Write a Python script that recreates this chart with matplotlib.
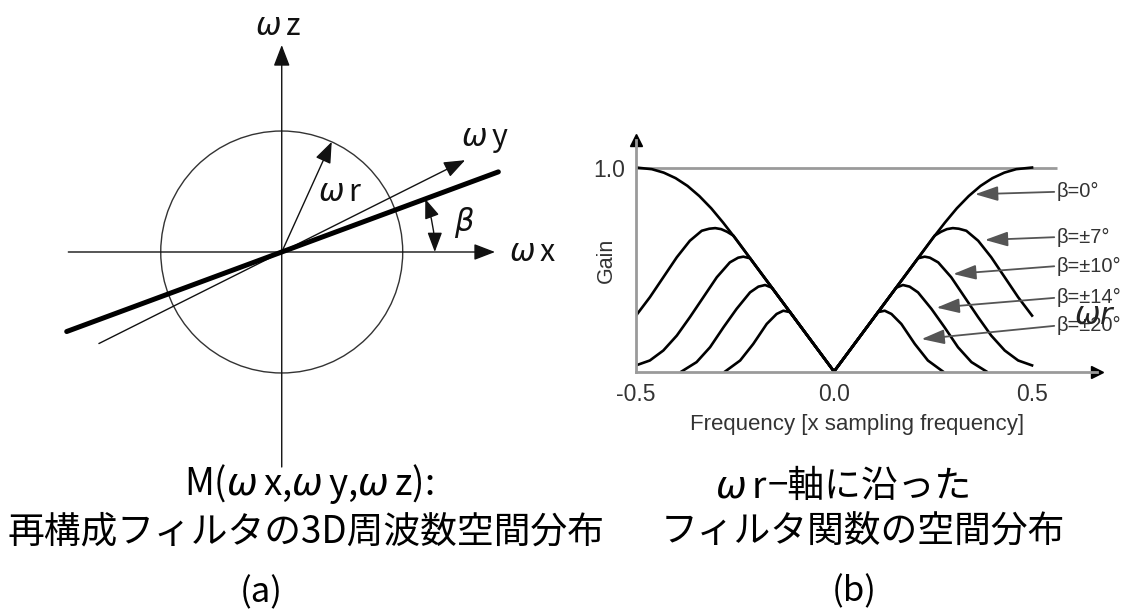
import numpy as np
import matplotlib.pyplot as plt
from matplotlib.patches import Circle, FancyArrowPatch

plt.rcParams['font.family'] = ['Noto Sans CJK JP', 'DejaVu Sans']
plt.rcParams['mathtext.fontset'] = 'dejavusans'

W, H = 1128, 613

# --- (b) gain along the wr axis, left half (f <= 0); the right half is its mirror image
freq_b0 = [-0.5, -0.46, -0.43, -0.40, -0.37, -0.34, -0.31, -0.28, -0.25, -0.2, -0.15, -0.1, -0.05, 0.0]
gain_b0 = [1.0, 0.992, 0.975, 0.948, 0.91, 0.86, 0.80, 0.73, 0.655, 0.524, 0.393, 0.262, 0.131, 0.0]

freq_b7 = [-0.5, -0.465, -0.431, -0.397, -0.364, -0.334, -0.315, -0.30, -0.285, -0.27, -0.254,
           -0.2, -0.15, -0.1, -0.05, 0.0]
gain_b7 = [0.274, 0.364, 0.462, 0.56, 0.641, 0.69, 0.70, 0.703, 0.698, 0.685, 0.666,
           0.524, 0.393, 0.262, 0.131, 0.0]

freq_b10 = [-0.5, -0.465, -0.431, -0.397, -0.364, -0.33, -0.296, -0.263, -0.242, -0.229, -0.212,
            -0.15, -0.1, -0.05, 0.0]
gain_b10 = [0.03, 0.054, 0.103, 0.176, 0.266, 0.364, 0.462, 0.535, 0.558, 0.563, 0.555,
            0.393, 0.262, 0.131, 0.0]

freq_b14 = [-0.385, -0.347, -0.313, -0.279, -0.246, -0.212, -0.191, -0.174, -0.157, -0.1, -0.05, 0.0]
gain_b14 = [0.0, 0.046, 0.119, 0.217, 0.307, 0.388, 0.416, 0.424, 0.411, 0.262, 0.131, 0.0]

freq_b20 = [-0.275, -0.237, -0.204, -0.17, -0.145, -0.128, -0.111, -0.05, 0.0]
gain_b20 = [0.0, 0.054, 0.135, 0.233, 0.282, 0.298, 0.291, 0.131, 0.0]

curves = [(freq_b0, gain_b0), (freq_b7, gain_b7), (freq_b10, gain_b10),
          (freq_b14, gain_b14), (freq_b20, gain_b20)]

beta_labels = ["β=0°", "β=±7°", "β=±10°", "β=±14°", "β=±20°"]
label_gain = [0.881, 0.659, 0.517, 0.362, 0.225]
tip_freq = [0.356, 0.381, 0.301, 0.259, 0.221]
tip_gain = [0.869, 0.645, 0.478, 0.313, 0.159]
label_freq = 0.563

xtick_vals = [-0.5, 0.0, 0.5]
xtick_text = ["-0.5", "0.0", "0.5"]

# --- (a) geometry, in units of the circle radius
beta_deg = 20.3
wy_deg = 26.6
wr_deg = 65.6
arc_r = 1.265


def px(x, y):
    return x / W, 1 - y / H


fig = plt.figure(figsize=(W / 100, H / 100), dpi=100)

# ---------------- panel (a)
ax = fig.add_axes([40 / W, 1 - 470 / H, 520 / W, 470 / H])
ax.set_xlim(-1.998, 2.300)
ax.set_ylim(-1.802, 2.083)
ax.axis('off')

head = dict(arrowstyle="-|>,head_length=1.3,head_width=0.5", mutation_scale=10,
            color="#111", lw=1.0, shrinkA=0, shrinkB=0)

ax.add_patch(Circle((0, 0), 1.0, fill=False, ec="#333", lw=1.0))
ax.add_patch(FancyArrowPatch((-1.764, 0), (1.763, 0), **head))
ax.add_patch(FancyArrowPatch((0, -1.777), (0, 1.711), **head))

t = np.radians(wy_deg)
ax.add_patch(FancyArrowPatch((-1.69 * np.cos(t), -1.69 * np.sin(t)),
                             (1.695 * np.cos(t), 1.695 * np.sin(t)), **head))
t = np.radians(wr_deg)
ax.add_patch(FancyArrowPatch((0, 0), (np.cos(t), np.sin(t)), **head))

t = np.radians(beta_deg)
ax.plot([-1.895 * np.cos(t), 1.909 * np.cos(t)], [-1.895 * np.sin(t), 1.909 * np.sin(t)],
        color="black", lw=3.6, solid_capstyle="round")

arc_style = dict(head)
arc_style["arrowstyle"] = "<|-|>,head_length=1.2,head_width=0.45"
ax.add_patch(FancyArrowPatch((arc_r, 0), (arc_r * np.cos(t), arc_r * np.sin(t)),
                             connectionstyle="arc3,rad=0.09", **arc_style))

lab = dict(fontsize=22, ha="center", va="center", color="#111")
ax.text(-0.03, 1.868, r"$\omega\,$z", **lab)
ax.text(1.68, 0.934, r"$\omega\,$y", **lab)
ax.text(2.077, -0.008, r"$\omega\,$x", **lab)
ax.text(0.482, 0.488, r"$\omega\,$r", **lab)
ax.text(1.507, 0.24, r"$\beta$", **lab)

# ---------------- panel (b)
bx = fig.add_axes([636 / W, 1 - 371.5 / H, 461 / W, 231.5 / H])
bx.set_xlim(-0.5, 0.664)
bx.set_ylim(0, 1.135)
for side in ["top", "right"]:
    bx.spines[side].set_visible(False)
for side in ["left", "bottom"]:
    bx.spines[side].set_color("#9a9a9a")
    bx.spines[side].set_linewidth(2.0)
bx.plot(1, 0, ">", color="black", ms=9, transform=bx.transAxes, clip_on=False)
bx.plot(-0.5, 1, "^", color="black", ms=9, transform=bx.get_xaxis_transform(), clip_on=False)
bx.hlines(1.0, -0.5, label_freq, color="#9a9a9a", lw=2.0)

for f, g in curves:
    f = np.asarray(f)
    g = np.asarray(g)
    ff = np.concatenate([f, -f[-2::-1]])
    gg = np.concatenate([g, g[-2::-1]])
    bx.plot(ff, gg, color="black", lw=1.9, solid_joinstyle="round")

bx.set_xticks(xtick_vals, xtick_text)
bx.set_yticks([1.0], ["1.0"])
bx.tick_params(length=0, labelsize=16.5, labelcolor="#333", pad=8)
for lbl in bx.get_xticklabels() + bx.get_yticklabels():
    lbl.set_family("Liberation Sans")

bx.text(-0.574, 0.547, "Gain", rotation=90, ha="center", va="center", fontsize=15.5,
        color="#333", family="Liberation Sans")
bx.text(0.058, -0.258, "Frequency [x sampling frequency]", ha="center", va="center",
        fontsize=16, color="#333", family="Liberation Sans", clip_on=False)

for name, yl, xt, yt in zip(beta_labels, label_gain, tip_freq, tip_gain):
    bx.annotate(name, xy=(xt, yt), xytext=(label_freq, yl), ha="left", va="center",
                fontsize=14.5, color="#333", family="Liberation Sans",
                arrowprops=dict(arrowstyle="-|>,head_length=1.4,head_width=0.45",
                                mutation_scale=10, color="#555", lw=1.3,
                                relpos=(0, 0.5), shrinkA=0, shrinkB=0))

bx.text(0.659, 0.277, r"$\omega r$", ha="center", va="center", fontsize=22,
        color="#222", clip_on=False)

# ---------------- captions
cap = 26.5
fig.text(*px(309, 484), r"M($\omega\,$x,$\omega\,$y,$\omega\,$z):", ha="center", va="center",
         fontsize=cap)
fig.text(*px(306, 532), "再構成フィルタの3D周波数空間分布", ha="center", va="center", fontsize=cap)
fig.text(*px(261, 593), "(a)", ha="center", va="center", fontsize=25)

fig.text(*px(768, 497), r"$\omega\,$r", ha="right", va="baseline", fontsize=cap)
fig.text(*px(768, 497), "−軸に沿った", ha="left", va="baseline", fontsize=cap)
fig.text(*px(863, 532), "フィルタ関数の空間分布", ha="center", va="center", fontsize=cap)
fig.text(*px(854, 592), "(b)", ha="center", va="center", fontsize=25)

fig.savefig("out.png", dpi=100)
